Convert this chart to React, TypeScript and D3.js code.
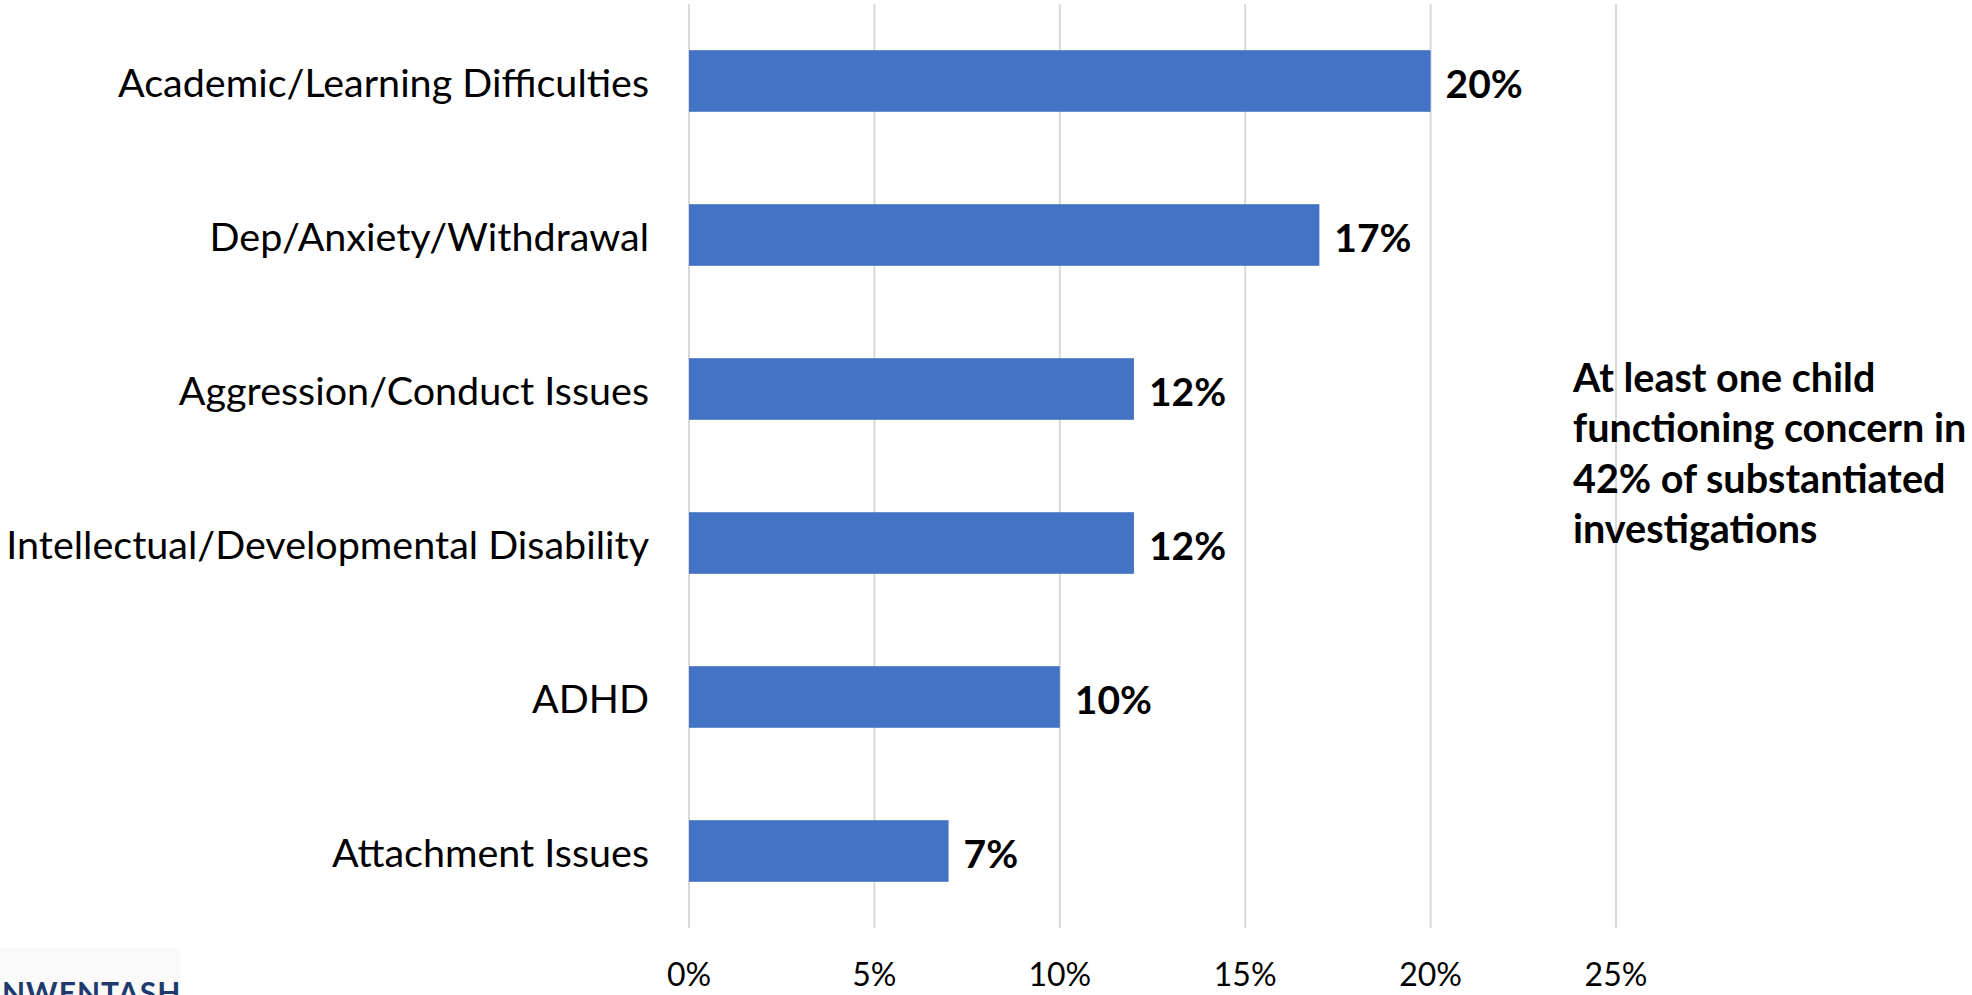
import React from "react";
import * as d3 from "d3";

const categories = [
  "Academic/Learning Difficulties",
  "Dep/Anxiety/Withdrawal",
  "Aggression/Conduct Issues",
  "Intellectual/Developmental Disability",
  "ADHD",
  "Attachment Issues",
];
const values = [20, 17, 12, 12, 10, 7];
const ticks = [0, 5, 10, 15, 20, 25];
const noteLines = [
  "At least one child",
  "functioning concern in",
  "42% of substantiated",
  "investigations",
];
const logoText = "NWENTASH";

const W = 1972;
const H = 995;
const FONT = "Lato, 'Open Sans', sans-serif";

export default function App() {
  const x = d3.scaleLinear().domain([0, 25]).range([689, 1616]);
  const y = d3
    .scaleBand<string>()
    .domain(categories)
    .range([4, 928])
    .paddingInner(0.6)
    .paddingOuter(0.3);

  return (
    <svg
      width={W}
      height={H}
      style={{ position: "absolute", left: 0, top: 0, background: "#fff" }}
    >
      <rect x={0} y={0} width={W} height={H} fill="#fff" />
      {ticks.map((t) => (
        <line
          key={"g" + t}
          x1={x(t)}
          x2={x(t)}
          y1={4}
          y2={928}
          stroke="#d9d9d9"
          strokeWidth={2}
        />
      ))}
      {categories.map((c, i) => (
        <g key={c}>
          <rect
            x={x(0)}
            y={y(c)!}
            width={x(values[i]) - x(0)}
            height={y.bandwidth()}
            fill="#4472C4"
          />
          <text
            x={649}
            y={y(c)! + y.bandwidth() / 2}
            textAnchor="end"
            dominantBaseline="central"
            fontFamily={FONT}
            fontSize={39.5}
            fill="#000"
          >
            {c}
          </text>
          <text
            x={x(values[i]) + 15}
            y={y(c)! + y.bandwidth() / 2 + 2}
            dominantBaseline="central"
            fontFamily={FONT}
            fontSize={39}
            fontWeight="bold"
            fill="#000"
          >
            {values[i] + "%"}
          </text>
        </g>
      ))}
      {ticks.map((t) => (
        <text
          key={"t" + t}
          x={x(t)}
          y={986}
          textAnchor="middle"
          fontFamily={FONT}
          fontSize={32}
          fill="#000"
        >
          {t + "%"}
        </text>
      ))}
      {noteLines.map((l, i) => (
        <text
          key={"n" + i}
          x={1573}
          y={376 + i * 50.5}
          dominantBaseline="central"
          fontFamily={FONT}
          fontSize={39.5}
          fontWeight="bold"
          fill="#000"
        >
          {l}
        </text>
      ))}
      <rect x={0} y={948} width={180} height={47} fill="#fafafa" />
      <text
        x={2}
        y={1004}
        fontFamily={FONT}
        fontSize={30}
        fontWeight="bold"
        fill="#1f3b6e"
        letterSpacing={1}
      >
        {logoText}
      </text>
    </svg>
  );
}
